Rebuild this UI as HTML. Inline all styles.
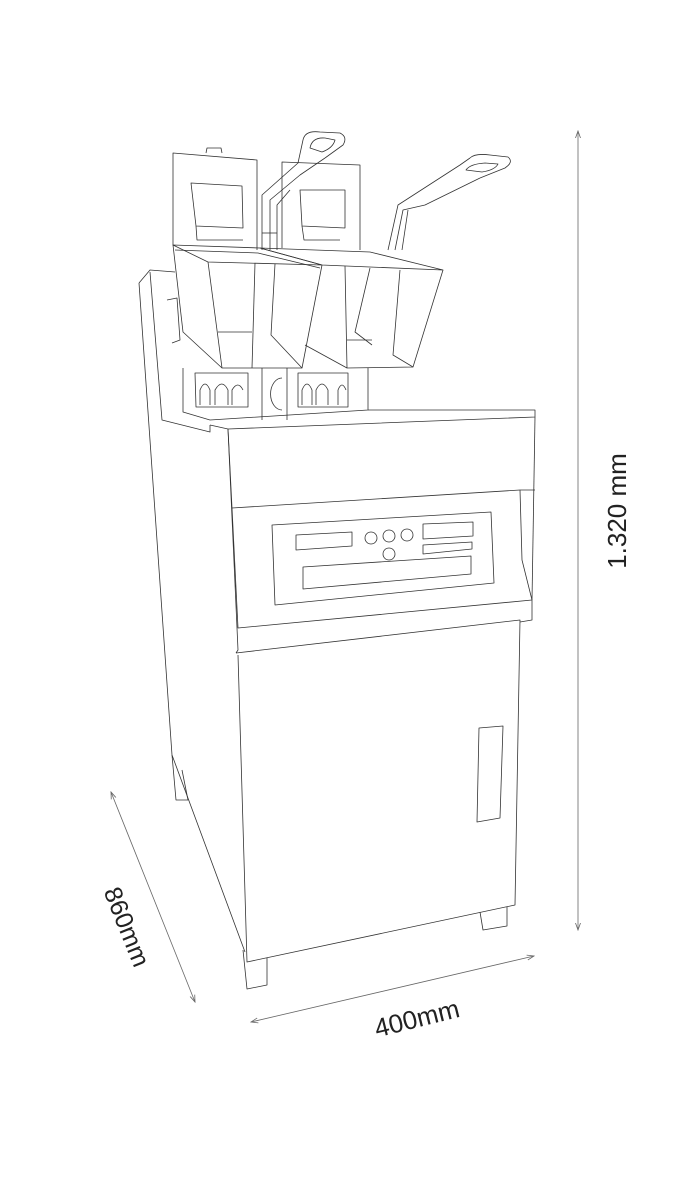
<!DOCTYPE html>
<html><head><meta charset="utf-8"><style>
html,body{margin:0;padding:0;background:#fff;width:700px;height:1200px;overflow:hidden}
svg{display:block}
text{font-family:"Liberation Sans",sans-serif;fill:#222}
</style></head><body>
<svg width="700" height="1200" viewBox="0 0 700 1200" xmlns="http://www.w3.org/2000/svg">
<defs>
<marker id="a" markerWidth="8" markerHeight="8" refX="7" refY="4" orient="auto-start-reverse" markerUnits="userSpaceOnUse"><path d="M0,1.5 L7,4 L0,6.5" fill="none" stroke="#666" stroke-width="0.8"/></marker>
</defs>
<g fill="none" stroke="#333" stroke-width="0.8" stroke-linejoin="round">
<polyline points="139,283 150,270 175,272"/>
<polyline points="139,283 172,755 245,952"/>
<polyline points="150,272 162,420 210,432 210,425"/>
<polyline points="172,755 176,800 188,800 182,770"/>
<polyline points="167,300 177,298 180,340 172,343"/>
<polyline points="210,425 228,429 535,417 535,410 368,410"/>
<polyline points="228,429 232,508 520,490 535,490"/>
<polyline points="535,417 532,600"/>
<polyline points="228,429 238,650 236,653"/>
<polyline points="232,508 238,628 532,600"/>
<polyline points="520,490 522,560 532,600"/>
<polyline points="236,653 520,620 515,905 247,962 238,655"/>
<polyline points="532,600 532,620 520,622"/>
<polygon points="272,525 491,512 494,583 275,605"/>
<polygon points="296,535 352,532 352,546 296,550"/>
<circle cx="371" cy="538" r="6"/><circle cx="389" cy="536" r="6"/><circle cx="407" cy="535" r="6"/><circle cx="389" cy="554" r="6"/>
<polygon points="423,524 473,522 473,536 423,539"/>
<polygon points="423,545 472,542 472,549 423,554"/>
<polygon points="303,567 471,556 471,574 303,589"/>
<polygon points="479,728 503,726 500,818 477,822"/>
<polyline points="243,950 247,989 267,985 267,958"/>
<polyline points="480,912 483,930 507,926 507,907"/>
<polyline points="173,245 173,153 257,160 257,250"/>
<polygon points="191,183 242,186 243,228 196,226"/>
<polyline points="196,226 197,240 243,240"/>
<polyline points="206,153 207,148 221,148 222,153"/>
<polyline points="282,248 282,162 360,165 360,250"/>
<polygon points="300,190 345,190 345,228 302,226"/>
<polyline points="302,226 304,240 340,240"/>
<polyline points="262,250 262,195 298,163 303,140"/>
<polyline points="270,250 270,200 300,175 325,158"/>
<polyline points="277,250 277,205 290,190"/>
<path d="M303,140 Q305,130 320,132 L340,133 Q348,137 343,145 L325,158"/>
<path d="M310,148 Q312,137 325,138 L335,140 Q333,148 322,152 Z"/>
<line x1="262" y1="233" x2="277" y2="233"/>
<polyline points="388,250 398,205 460,165 470,158"/>
<polyline points="395,250 403,210 425,205 480,178"/>
<polyline points="402,250 408,210"/>
<path d="M470,158 Q475,153 490,155 L508,157 Q514,162 505,168 L480,178"/>
<path d="M466,170 Q470,164 485,163 L498,164 Q495,170 482,172 Z"/>
<polygon points="173,245 260,248 322,265 208,262"/>
<polyline points="175,250 258,253 320,268"/>
<polyline points="173,245 183,332 222,368"/>
<polyline points="208,262 222,368 302,368 322,265"/>
<polyline points="255,263 252,368"/>
<polyline points="275,264 271,335 302,368"/>
<line x1="218" y1="332" x2="252" y2="332"/>
<polygon points="260,248 370,252 443,270 322,265"/>
<polyline points="345,266 347,368 413,367 443,270"/>
<polyline points="305,345 347,368"/>
<polyline points="370,268 355,332 372,345"/>
<polyline points="400,270 393,355 413,367"/>
<line x1="347" y1="340" x2="372" y2="340"/>
<polyline points="183,368 183,412 210,420 368,410 368,368"/>
<polygon points="195,373 248,373 248,407 196,407"/>
<polygon points="298,373 348,373 348,407 298,407"/>
<line x1="262" y1="368" x2="262" y2="420"/>
<line x1="287" y1="368" x2="287" y2="420"/>
<path d="M282,378 A10,14 0 0,0 282,410"/>
<path d="M200,405 V390 Q205,378 210,390 V405 M215,405 V390 Q222,378 228,390 V405 M232,405 V390 Q238,380 243,390"/>
<path d="M302,405 V390 Q307,378 312,390 V405 M316,405 V390 Q322,378 328,390 V405 M338,405 V390 Q342,380 346,390"/>
</g>
<g stroke="#666" stroke-width="0.8" fill="none">
<line x1="578" y1="131" x2="578" y2="930" marker-start="url(#a)" marker-end="url(#a)"/>
<line x1="111" y1="792" x2="195" y2="1002" marker-start="url(#a)" marker-end="url(#a)"/>
<line x1="251" y1="1022" x2="534" y2="956" marker-start="url(#a)" marker-end="url(#a)"/>
</g>
<text x="0" y="0" font-size="26" text-anchor="middle" transform="translate(626,511) rotate(-90)">1.320 mm</text>
<text x="0" y="0" font-size="25" text-anchor="middle" transform="translate(119,930) rotate(68)">860mm</text>
<text x="0" y="0" font-size="26" text-anchor="middle" transform="translate(419,1027) rotate(-14)">400mm</text>
</svg>
</body></html>
